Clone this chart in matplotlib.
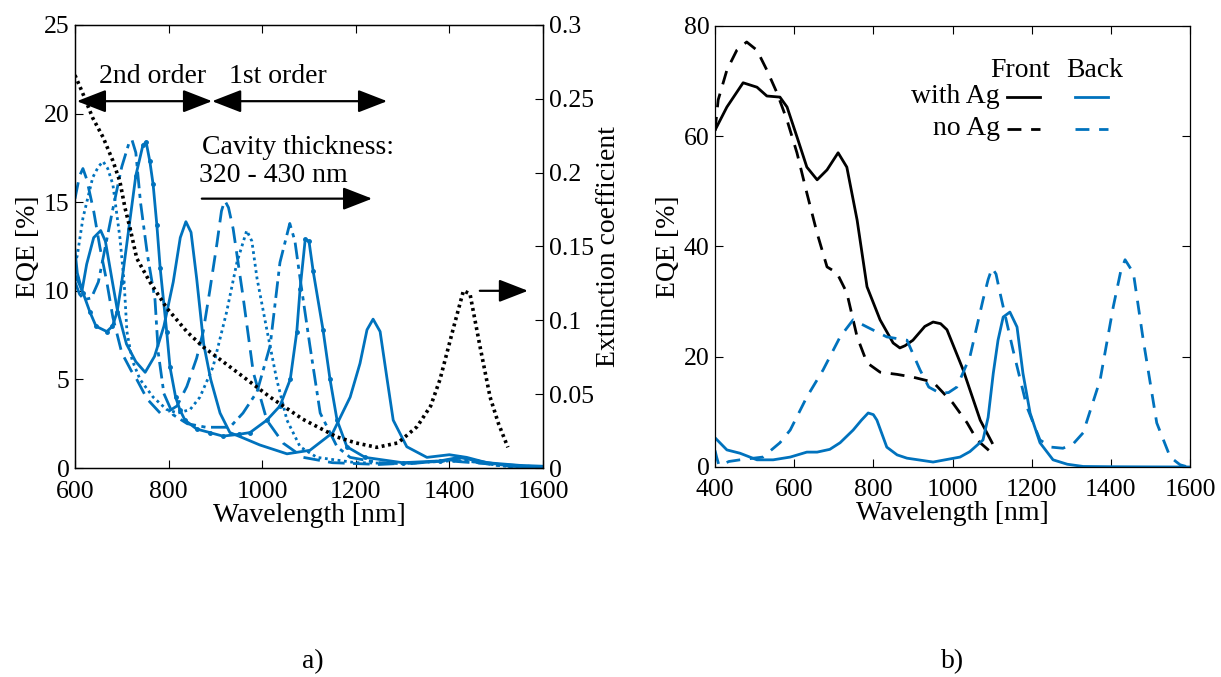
import numpy as np
import matplotlib.pyplot as plt

plt.rcParams['font.family'] = ['Liberation Serif', 'DejaVu Serif']
plt.rcParams['font.size'] = 19

BLUE = '#0072BD'

# ---- panel a): EQE of cavities with different thickness ----
c1_wl = [600, 605, 615, 625, 640, 655, 665, 680, 690, 710, 730, 750, 770, 790, 810, 825, 837, 848,
         860, 875, 890, 910, 931, 959, 995, 1053, 1102, 1151, 1188, 1209, 1224, 1237, 1252, 1267,
         1280, 1309, 1352, 1400, 1437, 1480, 1550, 1600]
c1_eqe = [12.3, 11, 10, 11.5, 13, 13.4, 12.8, 10.5, 9, 7, 6, 5.4, 6.3, 8, 10.5, 13, 13.9, 13.3,
          10.7, 7, 5, 3.1, 2.0, 1.7, 1.3, 0.8, 1.0, 2.0, 4.0, 5.9, 7.8, 8.4, 7.7, 5.0,
          2.7, 1.2, 0.6, 0.75, 0.6, 0.3, 0.15, 0.1]

c2_wl = [600, 604, 617, 632, 645, 668, 680, 690, 700, 715, 730, 745, 752, 760, 767, 775, 782, 796,
         803, 815, 824, 835, 860, 888, 916, 950, 974, 1010, 1038, 1060, 1074, 1081, 1092, 1100,
         1109, 1130, 1145, 1160, 1181, 1220, 1300, 1380, 1420, 1460, 1530, 1600]
c2_eqe = [10.8, 10.7, 9.9, 8.8, 8.0, 7.7, 8.0, 8.8, 10.5, 13.5, 16.5, 18.2, 18.4, 17.3, 16.0, 13.7, 11.3, 7.7,
          5.7, 4.0, 3.3, 2.7, 2.2, 2.0, 1.8, 1.9, 2.0, 2.7, 3.5, 5.0, 7.7, 10.1, 12.9, 12.8,
          11.1, 7.8, 5.0, 2.7, 1.2, 0.6, 0.3, 0.4, 0.6, 0.4, 0.1, 0.05]

c3_wl = [600, 610, 620, 635, 650, 665, 680, 700, 715, 722, 730, 740, 755, 771, 778, 790, 810, 840,
         880, 931, 959, 989, 1017, 1038, 1059, 1070, 1081, 1102, 1124, 1160, 1188, 1250, 1320,
         1400, 1440, 1500, 1600]
c3_eqe = [10.5, 9.8, 9.5, 9.6, 10.5, 12.5, 14.5, 17, 18.3, 18.5, 17.8, 15, 12, 9.5, 6.5, 4.2, 3.0, 2.5,
          2.3, 2.3, 3.1, 4.3, 6.9, 11.6, 13.8, 12.8, 10.7, 6.9, 3.1, 1.2, 0.6, 0.3, 0.25,
          0.45, 0.4, 0.15, 0.05]

c4_wl = [600, 605, 617, 638, 650, 660, 670, 681, 696, 705, 711, 722, 739, 767, 796, 820, 846, 867,
         895, 924, 946, 967, 978, 989, 1010, 1031, 1053, 1081, 1117, 1200, 1300, 1400, 1450, 1520, 1600]
c4_eqe = [11.5, 12, 14.1, 16.4, 17.0, 17.3, 16.9, 16.0, 13, 10.5, 7.7, 6.1, 5.0, 4.0, 3.3, 3.1, 3.3, 4.0,
          5.7, 8.8, 11.6, 13.4, 12.8, 10.7, 7.8, 5.0, 2.7, 1.2, 0.6, 0.3, 0.25, 0.4, 0.35, 0.1, 0.05]

c5_wl = [600, 610, 617, 625, 640, 653, 668, 681, 700, 720, 732, 754, 782, 800, 818, 839, 860, 874,
         888, 903, 913, 920, 928, 938, 959, 981, 1010, 1045, 1088, 1150, 1250, 1400, 1450, 1600]
c5_eqe = [15.2, 16.5, 16.9, 16.3, 14.5, 12.5, 10.5, 8.5, 6.5, 5.5, 5.0, 3.9, 3.1, 3.2, 3.5, 4.6, 6.2, 7.7,
          10, 12.6, 14.5, 15.1, 14.7, 13.5, 9.7, 5.4, 2.7, 1.4, 0.6, 0.3, 0.2, 0.4, 0.3, 0.05]

ext_wl = [600, 615, 638, 660, 681, 696, 707, 718, 732, 760, 797, 840, 874, 946, 1017, 1087, 1160, 1200,
          1245, 1290, 1331, 1360, 1380, 1408, 1430, 1444, 1465, 1487, 1505, 1525]
ext_k = [0.266, 0.255, 0.237, 0.224, 0.208, 0.194, 0.176, 0.162, 0.142, 0.126, 0.108, 0.092, 0.082, 0.065,
         0.048, 0.033, 0.021, 0.017, 0.014, 0.017, 0.028, 0.042, 0.06, 0.094, 0.12, 0.118, 0.083, 0.048,
         0.03, 0.014]

# ---- panel b): front / back EQE with and without Ag ----
front_ag_wl = [400, 430, 471, 506, 531, 564, 582, 607, 632, 658, 683, 711, 733, 759, 784, 817, 850, 867,
               880, 900, 930, 951, 970, 986, 1027, 1070, 1100]
front_ag_eqe = [61.1, 65.3, 69.7, 68.9, 67.3, 67.1, 65.3, 59.9, 54.4, 52.1, 53.9, 57.0, 54.4, 44.8, 32.7,
                26.7, 22.5, 21.6, 22, 23.0, 25.5, 26.3, 26, 24.9, 17.6, 8.5, 4.4]

front_noag_wl = [400, 408, 430, 455, 480, 506, 531, 557, 582, 607, 632, 658, 683, 708, 733, 759, 784, 817,
                 860, 900, 951, 1001, 1037, 1062, 1100]
front_noag_eqe = [61, 66.6, 72, 75.6, 77.1, 75.6, 72, 67.8, 62.9, 57, 49.7, 42.4, 36.3, 35.2, 31.6, 23.6,
                  18.9, 17.2, 16.8, 16.3, 15.4, 11.6, 8.0, 4.9, 2.5]

back_ag_wl = [400, 430, 463, 506, 547, 590, 632, 658, 690, 716, 749, 770, 787, 800, 809, 834, 860, 885,
              951, 1019, 1044, 1077, 1090, 1103, 1115, 1128, 1145, 1163, 1178, 1196, 1221, 1254, 1290,
              1330, 1400, 1500, 1600]
back_ag_eqe = [5.3, 3.1, 2.5, 1.3, 1.3, 1.8, 2.7, 2.7, 3.2, 4.4, 6.7, 8.5, 9.8, 9.5, 8.5, 3.6, 2.2, 1.6,
               0.9, 1.8, 2.8, 4.9, 9, 17, 23, 27.2, 28.1, 25.4, 17, 9.8, 4.4, 1.3, 0.5,
               0.1, 0.05, 0.02, 0.0]

back_noag_wl = [400, 404, 410, 420, 435, 463, 521, 564, 590, 632, 673, 716, 749, 784, 834, 885, 918, 940,
                968, 990, 1011, 1044, 1077, 1090, 1100, 1110, 1120, 1153, 1188, 1221, 1250, 1279, 1305,
                1330, 1373, 1406, 1425, 1436, 1457, 1482, 1516, 1550, 1575, 1590]
back_noag_eqe = [3.0, 1.8, 0.3, 0.5, 1.0, 1.3, 1.8, 4.4, 6.7, 12.7, 17.6, 23.6, 26.7, 25.4, 23.6, 23.0,
                 17.6, 14.5, 13.4, 13.5, 14.5, 20, 30.3, 34, 36.1, 35, 31.6, 21.2, 10.9, 4.9, 3.6, 3.4,
                 4.2, 6.2, 15.8, 29, 35.5, 37.6, 35.2, 23, 8, 1.8, 0.4, 0.1]

TICK_FS = 18.5
LABEL_FS = 20
TEXT_FS = 20


def style_axis(ax, xpad=9, ypad=4):
    ax.tick_params(direction='in', length=6, width=0.8, labelsize=TICK_FS)
    ax.tick_params(axis='x', pad=xpad)
    ax.tick_params(axis='y', pad=ypad)
    for s in ax.spines.values():
        s.set_linewidth(0.9)


fig = plt.figure(figsize=(12.21, 6.77), dpi=100)

# ---------------- panel a ----------------
ax1 = fig.add_axes([0.0614, 0.3087, 0.3833, 0.6544])
lw = 2.0
ax1.plot(c1_wl, c1_eqe, '-', color=BLUE, lw=lw)
ax1.plot(c2_wl, c2_eqe, '-', color=BLUE, lw=lw, marker='.', ms=5)
ax1.plot(c3_wl, c3_eqe, color=BLUE, lw=lw, linestyle=(0, (6, 2, 1.5, 2)))
ax1.plot(c4_wl, c4_eqe, color=BLUE, lw=lw, linestyle=(0, (1, 1.3)))
ax1.plot(c5_wl, c5_eqe, color=BLUE, lw=lw, linestyle=(0, (6, 3)))
ax1.set_xlim(600, 1600)
ax1.set_ylim(0, 25)
ax1.set_xticks(np.arange(600, 1601, 200))
ax1.set_yticks(np.arange(0, 26, 5))
ax1.set_xlabel('Wavelength [nm]', fontsize=LABEL_FS, labelpad=0)
ax1.set_ylabel('EQE [%]', fontsize=LABEL_FS, labelpad=2)
style_axis(ax1)
ax1.tick_params(top=True, right=False)

ax1b = ax1.twinx()
ax1b.plot(ext_wl, ext_k, color='black', lw=2.6, linestyle=(0, (0.8, 1.0)))
ax1b.set_ylim(0, 0.3)
ax1b.set_yticks([0, 0.05, 0.1, 0.15, 0.2, 0.25, 0.3])
ax1b.set_yticklabels(['0', '0.05', '0.1', '0.15', '0.2', '0.25', '0.3'])
ax1b.set_ylabel('Extinction coefficient', fontsize=LABEL_FS, labelpad=2)
style_axis(ax1b)

arrow_kw = dict(color='black', lw=1.6, shrinkA=0, shrinkB=0, mutation_scale=20)
dbl = '<|-|>,head_length=0.9,head_width=0.35'
sgl = '-|>,head_length=0.9,head_width=0.35'
ax1.annotate('', xy=(604, 20.7), xytext=(893, 20.7), arrowprops=dict(arrowstyle=dbl, **arrow_kw))
ax1.annotate('', xy=(893, 20.7), xytext=(1267, 20.7), arrowprops=dict(arrowstyle=dbl, **arrow_kw))
ax1.annotate('', xy=(1235, 15.2), xytext=(871, 15.2), arrowprops=dict(arrowstyle=sgl, **arrow_kw))
ax1.annotate('', xy=(1568, 10.0), xytext=(1465, 10.0), arrowprops=dict(arrowstyle=sgl, **arrow_kw))
ax1.text(765, 22.1, '2nd order', ha='center', va='center', fontsize=TEXT_FS)
ax1.text(1034, 22.1, '1st order', ha='center', va='center', fontsize=TEXT_FS)
ax1.text(872, 18.1, 'Cavity thickness:', ha='left', va='center', fontsize=TEXT_FS)
ax1.text(865, 16.5, '320 - 430 nm', ha='left', va='center', fontsize=TEXT_FS)

# ---------------- panel b ----------------
ax2 = fig.add_axes([0.5856, 0.3102, 0.389, 0.6514])
ax2.plot(front_ag_wl, front_ag_eqe, '-', color='black', lw=lw)
ax2.plot(front_noag_wl, front_noag_eqe, color='black', lw=lw, linestyle=(0, (5, 3.5)))
ax2.plot(back_ag_wl, back_ag_eqe, '-', color=BLUE, lw=lw)
ax2.plot(back_noag_wl, back_noag_eqe, color=BLUE, lw=lw, linestyle=(0, (5, 3.5)))
ax2.set_xlim(400, 1600)
ax2.set_ylim(0, 80)
ax2.set_xticks(np.arange(400, 1601, 200))
ax2.set_yticks(np.arange(0, 81, 20))
ax2.set_xlabel('Wavelength [nm]', fontsize=LABEL_FS, labelpad=0)
ax2.set_ylabel('EQE [%]', fontsize=LABEL_FS, labelpad=2)
style_axis(ax2)
ax2.tick_params(top=True, right=True)

# legend drawn as a small table
tr = ax2.transAxes
ax2.text(0.642, 0.90, 'Front', transform=tr, ha='center', va='center', fontsize=TEXT_FS)
ax2.text(0.80, 0.90, 'Back', transform=tr, ha='center', va='center', fontsize=TEXT_FS)
ax2.text(0.60, 0.84, 'with Ag', transform=tr, ha='right', va='center', fontsize=TEXT_FS)
ax2.text(0.60, 0.768, 'no Ag', transform=tr, ha='right', va='center', fontsize=TEXT_FS)
ax2.plot([0.615, 0.684], [0.838, 0.838], '-', color='black', lw=lw, transform=tr)
ax2.plot([0.758, 0.827], [0.838, 0.838], '-', color=BLUE, lw=lw, transform=tr)
ax2.plot([0.615, 0.684], [0.766, 0.766], color='black', lw=lw, linestyle=(0, (5, 3.5)), transform=tr)
ax2.plot([0.758, 0.827], [0.766, 0.766], color=BLUE, lw=lw, linestyle=(0, (5, 3.5)), transform=tr)

fig.text(0.256, 0.022, 'a)', ha='center', va='center', fontsize=TEXT_FS)
fig.text(0.7805, 0.022, 'b)', ha='center', va='center', fontsize=TEXT_FS)

fig.savefig('out.png', dpi=100)
